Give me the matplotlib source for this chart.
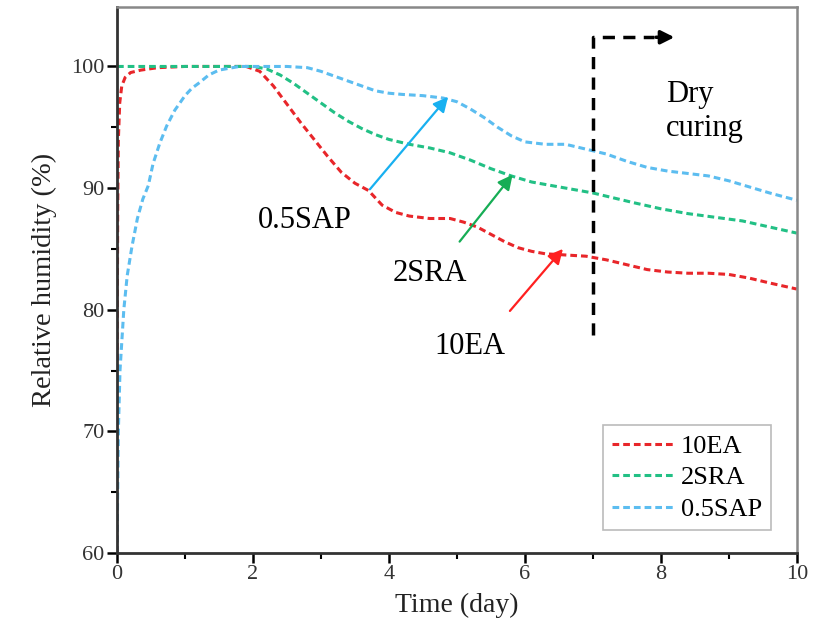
import numpy as np
import matplotlib
matplotlib.use("Agg")
import matplotlib.pyplot as plt

plt.rcParams['font.family'] = ['Liberation Serif', 'DejaVu Serif']

# data
ea_day = [0, 0.005, 0.01, 0.02, 0.04, 0.07, 0.12, 0.2, 0.35, 0.6, 1.0, 1.5, 1.9,
          2.1, 2.3, 2.5, 2.7, 2.9, 3.1, 3.3, 3.5, 3.7, 3.8, 3.9, 4.1, 4.3, 4.6,
          4.9, 5.1, 5.3, 5.5, 5.7, 5.9, 6.1, 6.3, 6.6, 6.9, 7.2, 7.5, 7.8, 8.1,
          8.4, 8.7, 9.0, 9.3, 9.6, 10]
ea_rh = [60, 80, 88, 94, 97, 98.4, 99.1, 99.5, 99.7, 99.9, 100, 100, 100,
         99.6, 98.4, 96.9, 95.4, 94.0, 92.6, 91.3, 90.4, 89.8, 89.2, 88.6, 88.0, 87.7, 87.5,
         87.5, 87.2, 86.8, 86.2, 85.6, 85.1, 84.8, 84.6, 84.5, 84.4, 84.1, 83.7, 83.3, 83.1,
         83.0, 83.0, 82.9, 82.6, 82.2, 81.7]

sra_day = [0, 0.5, 1.0, 1.5, 2.0, 2.2, 2.4, 2.6, 2.8, 3.0, 3.2, 3.4, 3.6, 3.8, 4.0,
           4.3, 4.6, 4.9, 5.2, 5.5, 5.8, 6.1, 6.4, 6.7, 7.0, 7.3, 7.6, 8.0, 8.4,
           8.8, 9.2, 9.6, 10]
sra_rh = [100, 100, 100, 100, 100, 99.8, 99.3, 98.6, 97.8, 97.0, 96.2, 95.5, 94.9, 94.4, 94.0,
          93.6, 93.3, 92.9, 92.3, 91.6, 91.0, 90.5, 90.2, 89.9, 89.6, 89.2, 88.8, 88.3, 87.9,
          87.6, 87.3, 86.8, 86.3]

sap_day = [0, 0.01, 0.02, 0.044, 0.1, 0.15, 0.22, 0.3, 0.38, 0.46, 0.53, 0.63, 0.73,
           0.85, 1.0, 1.1, 1.22, 1.35, 1.5, 1.8, 2.2, 2.5, 2.8, 3.0, 3.2, 3.4, 3.6,
           3.8, 4.0, 4.2, 4.5, 4.8, 5.0, 5.2, 5.4, 5.6, 5.8, 6.0, 6.3, 6.6, 6.9,
           7.2, 7.5, 7.8, 8.1, 8.4, 8.7, 9.0, 9.3, 9.6, 10]
sap_rh = [60, 65, 70, 75, 80, 82.8, 85.2, 87.5, 89.1, 90.2, 92.0, 93.7, 95.1,
          96.4, 97.6, 98.2, 98.7, 99.3, 99.7, 100, 100, 100, 99.9, 99.6, 99.2, 98.8, 98.4,
          98.0, 97.8, 97.7, 97.6, 97.4, 97.1, 96.5, 95.8, 95.0, 94.3, 93.8, 93.6, 93.6, 93.2,
          92.8, 92.2, 91.7, 91.4, 91.2, 91.0, 90.6, 90.1, 89.6, 89.0]

labels = ['10EA', '2SRA', '0.5SAP']
line_colors = ['#e8262a', '#22c085', '#5cbdf0']
arrow_colors = ['#ff2020', '#16ad55', '#18b0f0']

fig = plt.figure(figsize=(8.31, 6.41), dpi=100)
ax = fig.add_axes([0.1408, 0.1373, 0.818, 0.852])

dash = (0, (2.2, 1.3))
ax.plot(ea_day, ea_rh, color=line_colors[0], lw=2.2, ls=dash, label=labels[0])
ax.plot(sra_day, sra_rh, color=line_colors[1], lw=2.2, ls=dash, label=labels[1])
ax.plot(sap_day, sap_rh, color=line_colors[2], lw=2.2, ls=dash, label=labels[2])

# arrows pointing to the curves
arrows = [((5.78, 79.9), (6.56, 85.0), (5.19, 77.0)),
          ((5.04, 85.6), (5.82, 91.1), (4.60, 83.0)),
          ((3.72, 89.9), (4.87, 97.5), (2.76, 87.3))]
for (start, tip, txt), lab, c in zip(arrows, labels, arrow_colors):
    ax.annotate('', xy=tip, xytext=start,
                arrowprops=dict(arrowstyle='-|>', color=c, lw=1.6,
                                mutation_scale=22, shrinkA=0, shrinkB=0))
    ax.text(txt[0], txt[1], lab, fontsize=22, ha='center', va='center')

# dry curing marker
ax.plot([7, 7, 7.9], [77.9, 102.4, 102.4], color='k', lw=2.5, ls=(0, (3.5, 2.4)))
ax.annotate('', xy=(8.2, 102.4), xytext=(7.93, 102.4),
            arrowprops=dict(arrowstyle='-|>', color='k', lw=2.5,
                            mutation_scale=20, shrinkA=0, shrinkB=0))
ax.text(8.08, 97.7, 'Dry', fontsize=22, ha='left', va='center')
ax.text(8.08, 94.9, 'curing', fontsize=22, ha='left', va='center')

ax.set_xlim(0, 10)
ax.set_ylim(60, 104.9)
ax.set_xticks([0, 2, 4, 6, 8, 10])
ax.set_xticks([1, 3, 5, 7, 9], minor=True)
ax.set_yticks([60, 70, 80, 90, 100])
ax.set_yticks([65, 75, 85, 95], minor=True)
ax.tick_params(which='major', direction='out', length=7, width=1.8, pad=2,
               labelsize=16, labelcolor='#333333', top=False, right=False)
ax.tick_params(which='minor', direction='out', length=4, width=1.5,
               top=False, right=False)
ax.set_xlabel('Time (day)', fontsize=20, color='#222222', labelpad=6)
ax.set_ylabel('Relative humidity (%)', fontsize=20.5, color='#222222', labelpad=10)

for s in ['left', 'bottom']:
    ax.spines[s].set_linewidth(2)
    ax.spines[s].set_color('#333333')
for s in ['top', 'right']:
    ax.spines[s].set_linewidth(1.8)
    ax.spines[s].set_color('#888888')

leg = ax.legend(loc='lower right', bbox_to_anchor=(0.962, 0.042), fontsize=19,
                fancybox=False, edgecolor='#aaaaaa', handlelength=2.3,
                borderaxespad=0, labelspacing=0.3, handletextpad=0.3,
                borderpad=0.35)
leg.get_frame().set_linewidth(1.2)

fig.savefig('out.png', dpi=100)
